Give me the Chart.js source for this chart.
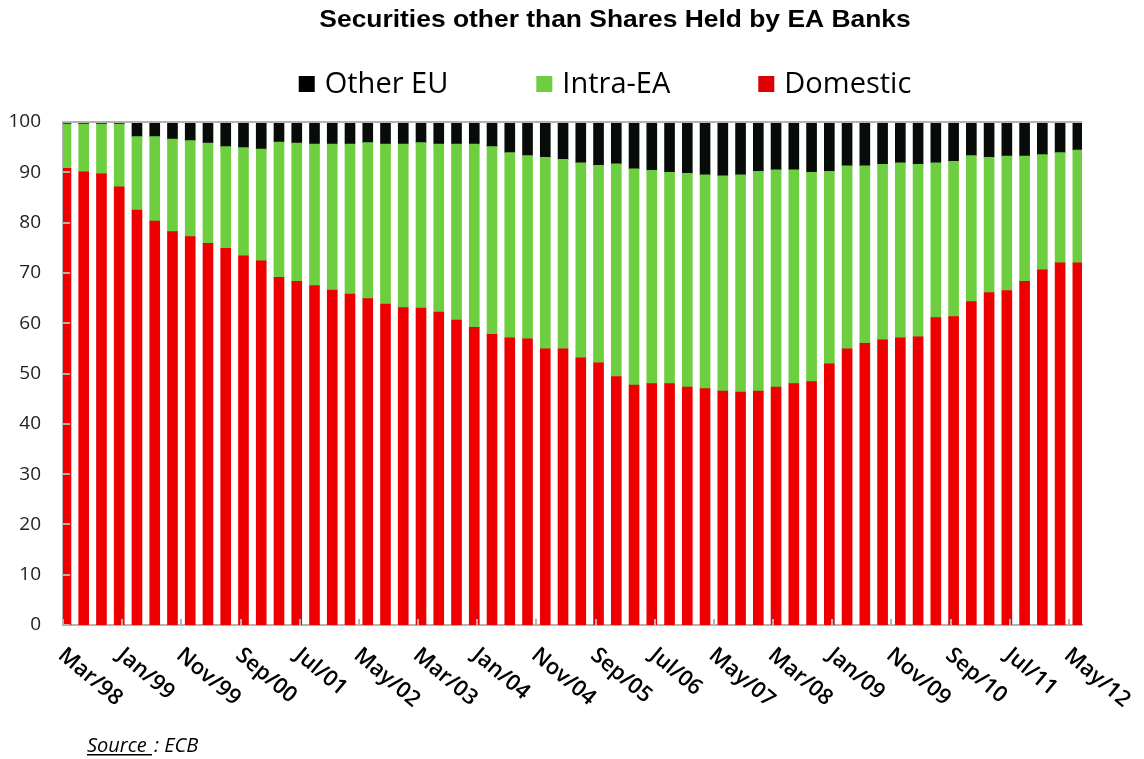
<!DOCTYPE html>
<html>
<head>
<meta charset="utf-8">
<script src="https://cdn.jsdelivr.net/npm/chart.js@4.4.0/dist/chart.umd.min.js"></script>
<style>
  html, body { margin: 0; padding: 0; background: #fff; }
</style>
</head>
<body>
<canvas id="secChart" width="1144" height="759"></canvas>
<script>
// quarterly observations, Mar/98 .. Jun/12
const quarters = [
    'Mar/98', 'Jun/98', 'Sep/98', 'Dec/98',
    'Mar/99', 'Jun/99', 'Sep/99', 'Dec/99',
    'Mar/00', 'Jun/00', 'Sep/00', 'Dec/00',
    'Mar/01', 'Jun/01', 'Sep/01', 'Dec/01',
    'Mar/02', 'Jun/02', 'Sep/02', 'Dec/02',
    'Mar/03', 'Jun/03', 'Sep/03', 'Dec/03',
    'Mar/04', 'Jun/04', 'Sep/04', 'Dec/04',
    'Mar/05', 'Jun/05', 'Sep/05', 'Dec/05',
    'Mar/06', 'Jun/06', 'Sep/06', 'Dec/06',
    'Mar/07', 'Jun/07', 'Sep/07', 'Dec/07',
    'Mar/08', 'Jun/08', 'Sep/08', 'Dec/08',
    'Mar/09', 'Jun/09', 'Sep/09', 'Dec/09',
    'Mar/10', 'Jun/10', 'Sep/10', 'Dec/10',
    'Mar/11', 'Jun/11', 'Sep/11', 'Dec/11',
    'Mar/12', 'Jun/12'
];

const domestic = [
    90.8, 90.1, 89.7, 87.1, 82.5, 80.3, 78.2, 77.2, 75.9, 74.9,
    73.4, 72.4, 69.1, 68.3, 67.5, 66.6, 65.8, 64.9, 63.8, 63.1,
    63.0, 62.2, 60.6, 59.2, 57.8, 57.1, 56.9, 54.9, 54.9, 53.1,
    52.1, 49.4, 47.7, 48.0, 48.0, 47.3, 47.0, 46.5, 46.3, 46.5,
    47.3, 48.0, 48.4, 51.9, 54.9, 56.0, 56.7, 57.1, 57.3, 61.1,
    61.3, 64.3, 66.1, 66.5, 68.3, 70.6, 72.0, 72.0
];

const intraEA = [
    8.8, 9.5, 9.9, 12.5, 14.6, 16.8, 18.4, 19.1, 19.9, 20.2,
    21.5, 22.2, 26.9, 27.5, 28.1, 29.0, 29.8, 31.0, 31.8, 32.5,
    32.9, 33.4, 35.0, 36.4, 37.3, 36.8, 36.4, 38.1, 37.7, 38.8,
    39.3, 42.3, 43.0, 42.4, 42.0, 42.5, 42.5, 42.8, 43.2, 43.7,
    43.2, 42.5, 41.6, 38.3, 36.4, 35.3, 34.9, 34.8, 34.3, 30.8,
    30.9, 29.0, 26.9, 26.7, 24.9, 22.9, 21.9, 22.4
];

const otherEU = [
    0.4, 0.4, 0.4, 0.4, 2.9, 2.9, 3.4, 3.7, 4.2, 4.9,
    5.1, 5.4, 4.0, 4.2, 4.4, 4.4, 4.4, 4.1, 4.4, 4.4,
    4.1, 4.4, 4.4, 4.4, 4.9, 6.1, 6.7, 7.0, 7.4, 8.1,
    8.6, 8.3, 9.3, 9.6, 10.0, 10.2, 10.5, 10.7, 10.5, 9.8,
    9.5, 9.5, 10.0, 9.8, 8.7, 8.7, 8.4, 8.1, 8.4, 8.1,
    7.8, 6.7, 7.0, 6.8, 6.8, 6.5, 6.1, 5.6
];

// date axis labels (every 10 months)
const xTickLabels = [
    'Mar/98', 'Jan/99', 'Nov/99', 'Sep/00', 'Jul/01', 'May/02', 'Mar/03', 'Jan/04', 'Nov/04',
    'Sep/05', 'Jul/06', 'May/07', 'Mar/08', 'Jan/09', 'Nov/09', 'Sep/10', 'Jul/11', 'May/12'
];

const MONTHS = ['Jan', 'Feb', 'Mar', 'Apr', 'May', 'Jun', 'Jul', 'Aug', 'Sep', 'Oct', 'Nov', 'Dec'];

// months elapsed since Mar/98
function monthOf(label) {
    const [m, y] = label.split('/');
    const yr = +y > 50 ? 1900 + +y : 2000 + +y;
    return (yr - 1998) * 12 + MONTHS.indexOf(m) - 2;
}

const toPoints = vals => vals.map((v, i) => ({ x: monthOf(quarters[i]) + 0.5, y: v }));

const AXIS = '#b3b3b3';
const FONT = '"Open Sans", "Noto Sans", sans-serif';

const decor = {
    id: 'decor',
    afterDatasetsDraw(chart) {
        const { ctx, chartArea: a, scales: { x, y } } = chart;
        ctx.save();
        ctx.strokeStyle = AXIS;
        ctx.lineWidth = 2;
        // top edge at 100
        ctx.beginPath();
        ctx.moveTo(a.left, y.getPixelForValue(100));
        ctx.lineTo(a.right, y.getPixelForValue(100));
        ctx.stroke();
        // inner tick marks
        ctx.beginPath();
        y.ticks.forEach(t => {
            const py = Math.round(y.getPixelForValue(t.value));
            ctx.moveTo(a.left, py);
            ctx.lineTo(a.left + 7, py);
        });
        xTickLabels.forEach(l => {
            const px = Math.round(x.getPixelForValue(monthOf(l)));
            ctx.moveTo(px, a.bottom);
            ctx.lineTo(px, a.bottom - 6);
        });
        ctx.stroke();
        ctx.restore();
    },
    afterDraw(chart) {
        const { ctx, chartArea: a, scales: { x } } = chart;
        ctx.save();

        // title
        ctx.fillStyle = '#000';
        ctx.font = 'bold 24px "Liberation Sans", Arial, sans-serif';
        ctx.textAlign = 'center';
        ctx.textBaseline = 'middle';
        ctx.save();
        ctx.translate(615, 20);
        ctx.scale(1.1, 1);
        ctx.fillText('Securities other than Shares Held by EA Banks', 0, 0);
        ctx.restore();

        // legend (reverse stack order)
        ctx.font = '29px ' + FONT;
        ctx.textAlign = 'left';
        const items = chart.data.datasets.slice().reverse();
        const gap = 88;
        const widths = items.map(d => 16 + 10 + ctx.measureText(d.label).width);
        const total = widths.reduce((s, w) => s + w, 0) + gap * (items.length - 1);
        let lx = 605 - total / 2;
        items.forEach((d, i) => {
            ctx.fillStyle = d.legendColor;
            ctx.fillRect(lx, 76, 16, 16);
            ctx.fillStyle = '#000';
            ctx.fillText(d.label, lx + 26, 85);
            lx += widths[i] + gap;
        });

        // rotated date labels
        ctx.font = '600 22px ' + FONT;
        ctx.fillStyle = '#000';
        ctx.textBaseline = 'top';
        xTickLabels.forEach(l => {
            const px = x.getPixelForValue(monthOf(l));
            ctx.save();
            ctx.translate(px + 5, a.bottom + 19);
            ctx.rotate(40 * Math.PI / 180);
            ctx.fillText(l, 0, 0);
            ctx.restore();
        });

        // source note
        ctx.font = 'italic 20px ' + FONT;
        ctx.textBaseline = 'alphabetic';
        ctx.fillText('Source', 87, 752);
        const sw = ctx.measureText('Source ').width;
        ctx.fillText(': ECB', 87 + sw + 2, 752);
        ctx.fillRect(87, 754, sw, 1.5);
        ctx.restore();
    }
};

new Chart(document.getElementById('secChart'), {
    type: 'bar',
    data: {
        datasets: [
            { label: 'Domestic', data: toPoints(domestic), backgroundColor: '#ee0000', legendColor: '#dd0000' },
            { label: 'Intra-EA', data: toPoints(intraEA), backgroundColor: '#6dcf40', legendColor: '#6dcf40' },
            { label: 'Other EU', data: toPoints(otherEU), backgroundColor: '#080c08', legendColor: '#000000' }
        ]
    },
    options: {
        responsive: false,
        animation: false,
        barThickness: 10,
        layout: { padding: { top: 122, right: 62, bottom: 0, left: 0 } },
        plugins: {
            legend: { display: false },
            title: { display: false },
            tooltip: { enabled: false }
        },
        scales: {
            x: {
                type: 'linear',
                min: 0,
                max: 172.2,
                offset: false,
                stacked: true,
                grid: { display: false, drawTicks: false, offset: false },
                border: { display: true, color: AXIS, width: 2 },
                ticks: { display: false },
                afterFit: s => { s.height = 134; }
            },
            y: {
                stacked: true,
                min: 0,
                max: 100,
                grid: { display: false, drawTicks: false },
                border: { display: true, color: AXIS, width: 2 },
                ticks: { stepSize: 10, padding: 22, color: '#222', font: { family: FONT, size: 19 } },
                afterFit: s => { s.width = 63; }
            }
        }
    },
    plugins: [decor]
});
</script>
</body>
</html>
